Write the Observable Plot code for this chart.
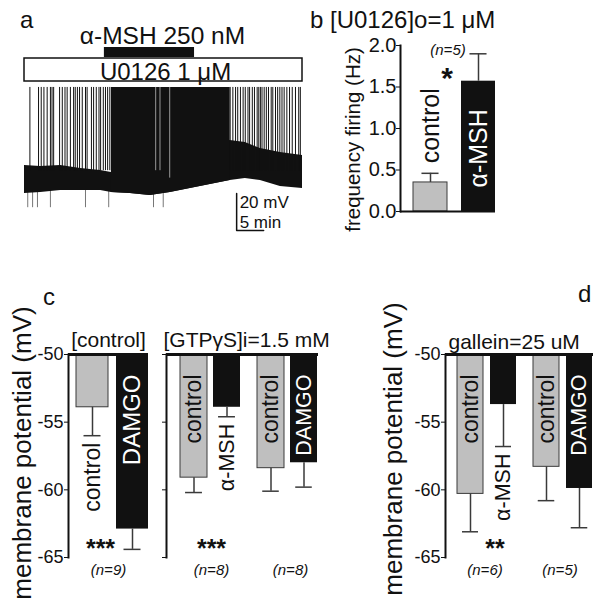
<!DOCTYPE html>
<html><head><meta charset="utf-8">
<script src="https://cdn.jsdelivr.net/npm/d3@7"></script>
<script src="https://cdn.jsdelivr.net/npm/@observablehq/plot@0.6"></script>
<style>
html,body{margin:0;padding:0;background:#fff}
#fig{position:relative;width:602px;height:602px;overflow:hidden;background:#fff;font-family:'Liberation Sans',Arial,sans-serif}
#fig svg{position:absolute}
</style>
</head><body><div id="fig"></div>
<script>
// ---------------- DATA ----------------
// Panel a: recording trace (minutes, mV)
const spikeTimesBefore = [1.0, 2.6, 3.1, 3.6, 4.2, 4.8, 5.1, 5.4, 6.5, 7.0, 7.5, 7.9, 8.5, 9.1, 9.4, 9.8, 10.2, 10.7, 11.3, 11.6, 12.4, 12.8, 13.3, 13.8, 14.1, 14.6, 15.0, 15.4, 15.8];
const spikeTimesAfter = [38.1, 38.6, 39.1, 39.5, 40.0, 40.5, 40.9, 41.4, 41.7, 42.2, 42.6, 43.1, 43.4, 43.7, 44.0, 44.4, 44.8, 45.2, 45.7, 46.0, 46.5, 46.9, 47.3, 47.7, 48.1, 48.6, 49.1, 49.6, 50.2, 50.8, 51.1];
const burstStart = 16.1, burstEnd = 38.1;
const pauseTimes = [24.3, 25.1, 26.9];
const pauseFloor = [-50, -50, -54];
const baseTimes = [0, 3.0, 6.7, 10.4, 14.1, 16.1, 19.6, 23.3, 27.0, 30.7, 34.4, 38.1, 40.9, 43.7, 47.4, 51.5];
const baseLow  = [-62.3, -61.8, -60.7, -60.7, -60.7, -61.8, -62.3, -63.4, -61.8, -59.6, -57.5, -55.3, -54.2, -55.3, -58.5, -59.6];
const baseHigh = [-47.2, -47.7, -47.2, -48.8, -49.9, -51.0, -51.0, -51.0, -44.5, -39.0, -36.4, -33.7, -34.8, -38.0, -40.2, -41.8];
const dipTimes = [0.6, 1.5, 2.4, 4.8, 11.3, 15.6, 23.9, 25.7];
const dipFloor = -70;
const spikePeak = -5;
const spikeFoot = -50;
const drugNames = ["α-MSH 250 nM", "U0126 1 μM"];
const drugStart = [14.8, 0];
const drugEnd = [31.5, 51.5];
const scaleMinutes = 5, scaleMillivolts = 20;

// Panel b: firing frequency (Hz)
const bCategories = ["control", "α-MSH"];
const bMeans = [0.35, 1.57];
const bSems = [0.11, 0.33];
const bTicks = [0, 0.5, 1.0, 1.5, 2.0];
const bSig = "*", bN = "(n=5)";

// Panels c, d: membrane potential (mV)
const mpTicks = [-65, -60, -55, -50];
const c1Labels = ["control", "DAMGO"], c1Means = [-53.9, -62.9], c1Sems = [2.1, 1.5];
const c2Labels = ["control", "α-MSH"], c2Means = [-59.1, -53.9], c2Sems = [1.1, 0.7];
const c3Labels = ["control", "DAMGO"], c3Means = [-58.4, -58.0], c3Sems = [1.7, 1.8];
const d1Labels = ["control", "α-MSH"], d1Means = [-60.3, -53.7], d1Sems = [2.8, 3.1];
const d2Labels = ["control", "DAMGO"], d2Means = [-58.3, -59.9], d2Sems = [2.5, 2.9];
const cSig = ["***", "***", ""], cN = ["(n=9)", "(n=8)", "(n=8)"];
const dSig = ["**", ""], dN = ["(n=6)", "(n=5)"];
const cTitles = ["[control]", "[GTPγS]i=1.5 mM"];
const dTitle = "gallein=25 uM";
const mpLabel = "membrane potential (mV)";
const bLabel = "frequency firing (Hz)";
const bTitle = "[U0126]o=1 μM";

// ---------------- RENDER ----------------
const FONT = "'Liberation Sans', Arial, Helvetica, sans-serif";
const GRAY = "#bfbfbf", BLACK = "#111111", EDGE = "#3a3a3a";
const baseStyle = {fontFamily: FONT, background: "transparent", overflow: "visible", color: "#111"};
const fig = document.getElementById("fig");
function place(svg, left, top) { svg.style.left = left + "px"; svg.style.top = top + "px"; fig.appendChild(svg); }

// ---- Panel a ----
const mvPerPx = scaleMillivolts / 37;
const aTop = 42;
const yPx = px => aTop - px * mvPerPx;
const band = baseTimes.map((t, i) => ({t, low: baseLow[i], high: baseHigh[i]}));
const burst = band.filter(d => d.t >= burstStart && d.t <= burstEnd);
const spikes = spikeTimesBefore.concat(spikeTimesAfter);
const pauses = pauseTimes.map((t, i) => ({t, floor: pauseFloor[i]}));
const drugs = drugNames.map((name, i) => ({name, start: drugStart[i], end: drugEnd[i]}));
const t0 = 39.3, v0 = yPx(230);
const aPlot = Plot.plot({
  width: 310, height: 240, marginLeft: 24, marginRight: 8, marginTop: 0, marginBottom: 0,
  x: {domain: [0, d3.max(baseTimes)], axis: null},
  y: {domain: [aTop - 240 * mvPerPx, aTop], axis: null},
  style: baseStyle,
  marks: [
    Plot.ruleX(dipTimes, {x: d => d, y1: spikeFoot - 8, y2: dipFloor, stroke: "#777", strokeWidth: 1}),
    Plot.areaY(band, {x: "t", y1: "low", y2: "high", fill: BLACK}),
    Plot.areaY(burst, {x: "t", y1: "low", y2: () => spikePeak, fill: BLACK}),
    Plot.ruleX(spikes, {x: d => d, y1: () => spikeFoot, y2: () => spikePeak, stroke: BLACK, strokeWidth: 1}),
    Plot.ruleX(pauses, {x: "t", y1: "floor", y2: () => spikePeak, stroke: "#999", strokeWidth: 1}),
    Plot.rect(drugs.slice(1), {x1: "start", x2: "end", y1: () => yPx(81), y2: () => yPx(58), fill: "white", stroke: BLACK, strokeWidth: 1.5}),
    Plot.rect(drugs.slice(0, 1), {x1: "start", x2: "end", y1: () => yPx(57), y2: () => yPx(47), fill: BLACK}),
    Plot.text(drugs.slice(0, 1), {x: d => (d.start + d.end) / 2, y: () => yPx(35.5), text: "name", dx: 13, fontSize: 24.5, lineAnchor: "middle"}),
    Plot.text(drugs.slice(1), {x: d => (d.start + d.end) / 2, y: () => yPx(72), text: "name", dx: 2, fontSize: 24, lineAnchor: "middle"}),
    Plot.line([[t0, v0 + scaleMillivolts], [t0, v0], [t0 + scaleMinutes, v0]], {x: d => d[0], y: d => d[1], stroke: BLACK, strokeWidth: 1.5}),
    Plot.text([`${scaleMillivolts} mV`], {x: () => t0, y: () => yPx(202.5), dx: 3, textAnchor: "start", lineAnchor: "middle", fontSize: 17}),
    Plot.text([`${scaleMinutes} min`], {x: () => t0, y: () => yPx(222.5), dx: 3, textAnchor: "start", lineAnchor: "middle", fontSize: 17})
  ]
});
place(aPlot, 0, 0);

// ---- Panel b ----
const bRows = bCategories.map((label, i) => ({label, mean: bMeans[i], sem: bSems[i], top: bMeans[i] + bSems[i]}));
const bPxPerHz = (211 - 45) / 2;
bRows.forEach(d => d.inside = d.mean * bPxPerHz > 90);
const bStep = 95 / (2 - 0.3 + 0.26), bBw = bStep * 0.7, bCap = (bBw - 17) / 2;
const bPlot = Plot.plot({
  width: 200, height: 240, marginLeft: 80, marginRight: 25, marginTop: 45, marginBottom: 29,
  x: {type: "band", domain: bCategories, paddingInner: 0.3, paddingOuter: 0.13, align: 1, axis: null},
  y: {domain: [0, 2], label: null},
  style: baseStyle,
  marks: [
    Plot.barY(bRows.filter(d => d.label === "control"), {x: "label", y1: () => 0, y2: "mean", fill: GRAY, stroke: EDGE, strokeWidth: 1}),
    Plot.barY(bRows.filter(d => d.label !== "control"), {x: "label", y1: () => 0, y2: "mean", fill: BLACK}),
    Plot.ruleX(bRows, {x: "label", y1: "mean", y2: "top", stroke: EDGE, strokeWidth: 1.5}),
    Plot.tickY(bRows, {x: "label", y: "top", insetLeft: bCap, insetRight: bCap, stroke: EDGE, strokeWidth: 1.5}),
    Plot.ruleY([0], {strokeWidth: 2}),
    Plot.frame({anchor: "left", strokeWidth: 2}),
    Plot.axisY({ticks: bTicks, tickFormat: d3.format(".1f"), tickSize: 4, tickPadding: 0, fontSize: 20, label: null}),
    Plot.text(bRows.filter(d => !d.inside), {x: "label", y: "top", text: "label", rotate: -90, textAnchor: "start", lineAnchor: "middle", dy: -10, fontSize: 25, fill: BLACK}),
    Plot.text(bRows.filter(d => d.inside), {x: "label", y: () => 0, text: "label", rotate: -90, textAnchor: "start", lineAnchor: "middle", dy: -24, fontSize: 25, fill: "white"}),
    Plot.text([bSig], {frameAnchor: "top", textAnchor: "middle", lineAnchor: "middle", dx: -1, dy: 33, fontSize: 30, fontWeight: "bold"}),
    Plot.text([bN], {frameAnchor: "top", textAnchor: "middle", lineAnchor: "middle", dy: 5, fontSize: 15, fontStyle: "italic"}),
    Plot.text([bLabel], {frameAnchor: "left", rotate: -90, textAnchor: "middle", lineAnchor: "middle", dx: -47, dy: 11, fontSize: 20.5})
  ]
});
place(bPlot, 320, 0);

// ---- Panels c & d ----
const TOP_MV = -50, FT = 74, FB = 277;
function pairPlot(o) {
  const rows = o.labels.map((label, i) => ({label, mean: o.means[i], sem: o.sems[i], end: o.means[i] - o.sems[i]}));
  const fw = o.frame[1] - o.frame[0];
  const step = fw / (rows.length - o.pi + 2 * o.po);
  const bw = step * (1 - o.pi);
  const cap = Math.max(0, (bw - 17) / 2);
  const pxPerMv = (FB - FT) / 15;
  rows.forEach(d => d.inside = Math.abs(d.mean - TOP_MV) * pxPerMv > 90);
  const fs = d => d.label === "control" ? 23 : (o.bigDamgo && d.label === "DAMGO" ? 24 : 21.5);
  const marks = [
    Plot.barY(rows.filter(d => d.label === "control"), {x: "label", y1: () => TOP_MV, y2: "mean", fill: GRAY, stroke: EDGE, strokeWidth: 1}),
    Plot.barY(rows.filter(d => d.label !== "control"), {x: "label", y1: () => TOP_MV, y2: "mean", fill: BLACK}),
    Plot.ruleX(rows, {x: "label", y1: "mean", y2: "end", stroke: EDGE, strokeWidth: 1.5}),
    Plot.tickY(rows, {x: "label", y: "end", insetLeft: cap, insetRight: cap, stroke: EDGE, strokeWidth: 1.5}),
    Plot.ruleY([TOP_MV], {strokeWidth: 3}),
    Plot.text(rows.filter(d => d.inside && d.label === "control"), {x: "label", y: () => TOP_MV, text: "label", rotate: -90, textAnchor: "end", lineAnchor: "middle", dy: 20, fontSize: fs, fill: BLACK}),
    Plot.text(rows.filter(d => d.inside && d.label !== "control"), {x: "label", y: () => TOP_MV, text: "label", rotate: -90, textAnchor: "end", lineAnchor: "middle", dy: 20, fontSize: fs, fill: "white"}),
    Plot.text(rows.filter(d => !d.inside), {x: "label", y: "end", text: "label", rotate: -90, textAnchor: "end", lineAnchor: "middle", dy: 7, fontSize: fs, fill: BLACK}),
    Plot.text([o.n], {frameAnchor: "bottom", textAnchor: "middle", lineAnchor: "middle", dx: o.nDx, dy: 13, fontSize: 15, fontStyle: "italic"})
  ];
  if (o.sig) marks.push(Plot.text([o.sig], {frameAnchor: "bottom", textAnchor: "middle", lineAnchor: "middle", dx: o.sigDx, dy: -9, fontSize: 25, fontWeight: "bold"}));
  if (o.axis) {
    marks.push(Plot.frame({anchor: "left", strokeWidth: 2}));
    marks.push(Plot.axisY({ticks: mpTicks, tickSize: 4, tickPadding: 1, fontSize: 18, label: null,
      tickFormat: o.tickLabels ? (d => String(d)) : (() => "")}));
  }
  if (o.title) marks.push(Plot.text([o.title], {frameAnchor: o.titleAnchor, textAnchor: o.titleAnchor === "top" ? "middle" : "start", lineAnchor: "middle", dx: o.titleDx || 0, dy: o.titleDy, fontSize: 21}));
  if (o.ylabel) marks.push(Plot.text([o.ylabel], {frameAnchor: "left", rotate: -90, textAnchor: "middle", lineAnchor: "middle", dx: o.ylabelDx, dy: o.ylabelDy, fontSize: 26}));
  const svg = Plot.plot({
    width: o.width, height: 322, marginLeft: o.ml, marginRight: o.mr, marginTop: FT, marginBottom: 322 - FB,
    x: {type: "band", domain: o.labels, paddingInner: o.pi, paddingOuter: o.po, align: o.align, axis: null},
    y: o.axis ? {domain: [-65, -50], label: null} : {domain: [-65, -50], axis: null},
    style: baseStyle,
    marks
  });
  place(svg, o.left, 280);
}

pairPlot({labels: c1Labels, means: c1Means, sems: c1Sems, frame: [68, 148], left: 0, width: 158, ml: 68, mr: 10,
  pi: 0.2, po: 0.1, align: 1, axis: true, tickLabels: true, sig: cSig[0], sigDx: -8, n: cN[0], nDx: 0, bigDamgo: true,
  title: cTitles[0], titleAnchor: "top", titleDy: -14, ylabel: mpLabel, ylabelDx: -46, ylabelDy: -3});
pairPlot({labels: c2Labels, means: c2Means, sems: c2Sems, frame: [166, 248], left: 150, width: 108, ml: 16, mr: 10,
  pi: 0.18, po: 0.33, align: 0.66, axis: true, tickLabels: false, sig: cSig[1], sigDx: 4, n: cN[1], nDx: 4,
  title: cTitles[1], titleAnchor: "top-left", titleDx: -3, titleDy: -14});
pairPlot({labels: c3Labels, means: c3Means, sems: c3Sems, frame: [248, 318], left: 238, width: 90, ml: 10, mr: 10,
  pi: 0.18, po: 0.135, align: 0.89, axis: false, sig: cSig[2], n: cN[2], nDx: 7});
pairPlot({labels: d1Labels, means: d1Means, sems: d1Sems, frame: [445, 524], left: 375, width: 159, ml: 70, mr: 10,
  pi: 0.206, po: 0.265, align: 0.61, axis: true, tickLabels: true, sig: dSig[0], sigDx: 10, n: dN[0], nDx: 0,
  title: dTitle, titleAnchor: "top-left", titleDx: 3, titleDy: -12, ylabel: mpLabel, ylabelDx: -52, ylabelDy: -7});
pairPlot({labels: d2Labels, means: d2Means, sems: d2Sems, frame: [524, 593], left: 514, width: 88, ml: 10, mr: 9,
  pi: 0.21, po: 0.135, align: 0.89, axis: false, sig: dSig[1], n: dN[1], nDx: 1});

// ---- Panel letters and panel b title ----
const overlayText = [
  {t: "a", x: 20, y: 28, s: 24}, {t: "b", x: 310, y: 28, s: 24}, {t: bTitle, x: 330, y: 28, s: 24},
  {t: "c", x: 43, y: 305, s: 24}, {t: "d", x: 578, y: 302, s: 24}
];
const ov = d3.create("svg").attr("width", 602).attr("height", 602).style("left", "0px").style("top", "0px").style("pointer-events", "none");
ov.selectAll("text").data(overlayText).join("text")
  .attr("x", d => d.x).attr("y", d => d.y).attr("font-size", d => d.s)
  .attr("font-family", FONT).attr("fill", "#111").text(d => d.t);
fig.appendChild(ov.node());
</script></body></html>
